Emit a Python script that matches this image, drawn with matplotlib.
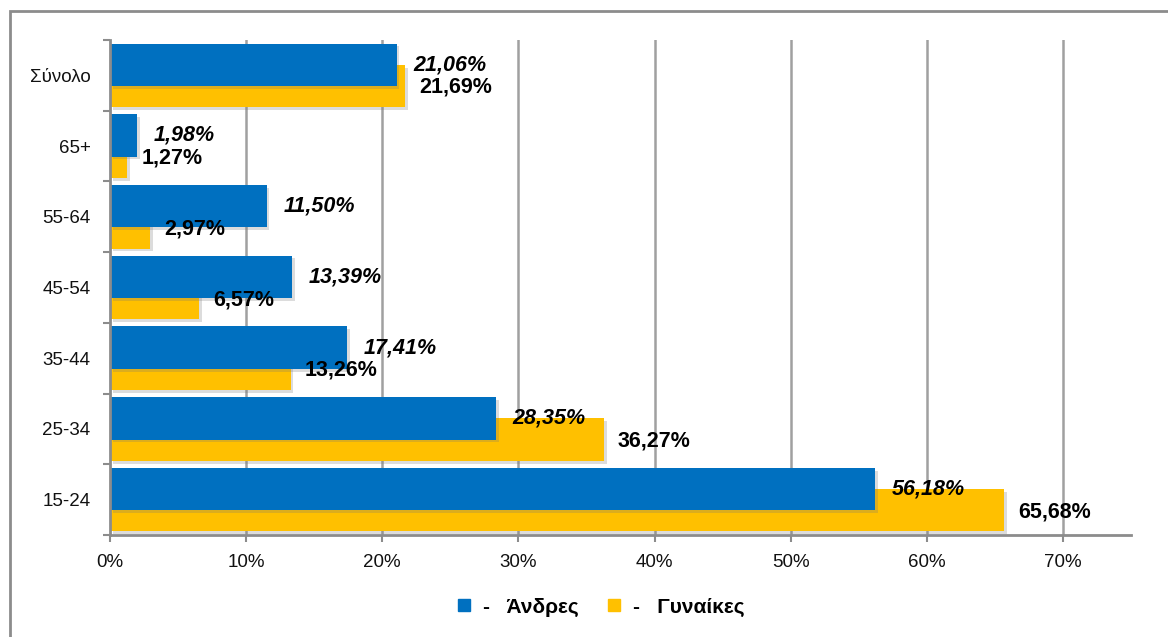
import matplotlib.pyplot as plt
import numpy as np
from matplotlib import patheffects as pe
from matplotlib.patches import Rectangle
from matplotlib.lines import Line2D

plt.rcParams['font.family'] = ['Liberation Sans', 'DejaVu Sans']

# δεδομένα (από κάτω προς τα πάνω)
categories = ['15-24', '25-34', '35-44', '45-54', '55-64', '65+', 'Σύνολο']
men = [56.18, 28.35, 17.41, 13.39, 11.50, 1.98, 21.06]
women = [65.68, 36.27, 13.26, 6.57, 2.97, 1.27, 21.69]
xticks = [0, 10, 20, 30, 40, 50, 60, 70]

blue = '#0070C0'
gold = '#FFC000'
grey = '#8C8C8C'

fig = plt.figure(figsize=(11.68, 6.37), dpi=100)
ax = fig.add_axes([110 / 1168, 1 - 535 / 637, (1131 - 110) / 1168, (535 - 40) / 637])

# πλαίσιο γύρω από το γράφημα
fig.patches.append(Rectangle((10 / 1168, -0.1), 1.2, 1 - 11 / 637 + 0.1,
                             transform=fig.transFigure, fill=False,
                             edgecolor=grey, linewidth=2))

y = np.arange(len(categories))
shadow = [pe.SimplePatchShadow(offset=(2, -2), shadow_rgbFace='#777777', alpha=0.25), pe.Normal()]
bw = ax.barh(y - 0.15, women, height=0.6, color=gold, zorder=3)
bm = ax.barh(y + 0.15, men, height=0.6, color=blue, zorder=4)
for b in list(bw) + list(bm):
    b.set_path_effects(shadow)


def fmt(v):
    return f'{v:.2f}'.replace('.', ',') + '%'


for i in range(len(categories)):
    ax.annotate(fmt(men[i]), (men[i], y[i] + 0.15), xytext=(12, 0),
                textcoords='offset points', va='center', ha='left',
                fontsize=15.5, fontweight='bold', fontstyle='italic', zorder=6)
    ax.annotate(fmt(women[i]), (women[i], y[i] - 0.17), xytext=(10, 0),
                textcoords='offset points', va='center', ha='left',
                fontsize=15.5, fontweight='bold', zorder=6)

ax.set_xlim(0, 75)
ax.set_ylim(-0.5, len(categories) - 0.5)
ax.set_xticks(xticks)
ax.set_xticklabels([f'{t}%' for t in xticks])
ax.set_yticks(y)
ax.set_yticklabels(categories)
ax.set_yticks(np.arange(-0.5, len(categories)), minor=True)
ax.tick_params(axis='y', which='major', length=0, pad=14, labelsize=13.5, labelcolor='#111111')
ax.tick_params(axis='y', which='minor', length=5, width=1.5, color=grey)
ax.tick_params(axis='x', length=5, width=1.5, color=grey, pad=9, labelsize=13.5, labelcolor='#111111')

for t in xticks[1:]:
    ax.axvline(t, color='#A0A0A0', linewidth=1.8, zorder=1)

for s in ['top', 'right']:
    ax.spines[s].set_visible(False)
for s in ['left', 'bottom']:
    ax.spines[s].set_color(grey)
    ax.spines[s].set_linewidth(2)
    ax.spines[s].set_zorder(5)

handles = [Line2D([], [], marker='s', linestyle='none', markersize=8, color=blue),
           Line2D([], [], marker='s', linestyle='none', markersize=8, color=gold)]
fig.legend(handles, ['-   Άνδρες', '-   Γυναίκες'], loc='center',
           bbox_to_anchor=(599 / 1168, 1 - 607 / 637), ncol=2, frameon=False,
           prop={'size': 15, 'weight': 'bold'}, handletextpad=0.4, columnspacing=1.2,
           handlelength=1)

fig.savefig('out.png', dpi=100)
